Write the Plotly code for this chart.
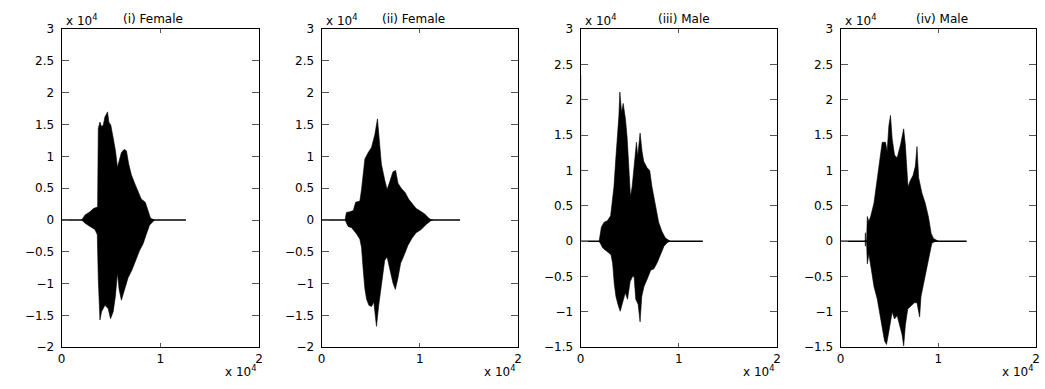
import plotly.graph_objects as go

# ---------------- data (x in units of 1e4 samples, y in units of 1e4) ----------------
titles = ["(i) Female", "(ii) Female", "(iii) Male", "(iv) Male"]
y_ranges = [[-2, 3], [-2, 3], [-1.5, 3], [-1.5, 3]]

x_tickvals = [0, 1, 2]
x_ticktext = ["0", "1", "2"]
y_tickvals_f = [-2, -1.5, -1, -0.5, 0, 0.5, 1, 1.5, 2, 2.5, 3]
y_ticktext_f = ["\u22122", "\u22121.5", "\u22121", "\u22120.5", "0", "0.5", "1", "1.5", "2", "2.5", "3"]
y_tickvals_m = [-1.5, -1, -0.5, 0, 0.5, 1, 1.5, 2, 2.5, 3]
y_ticktext_m = ["\u22121.5", "\u22121", "\u22120.5", "0", "0.5", "1", "1.5", "2", "2.5", "3"]

# Panel (i) envelope
p1_up_x = [0.204, 0.238, 0.288, 0.322, 0.355, 0.365, 0.372, 0.389, 0.405, 0.422, 0.439, 0.466, 0.479,
           0.499, 0.523, 0.546, 0.566, 0.59, 0.606, 0.633, 0.657, 0.68, 0.707, 0.74, 0.774, 0.807,
           0.848, 0.874, 0.901, 0.941]
p1_up_y = [0, 0.08, 0.13, 0.18, 0.2, 0.2, 1.44, 1.54, 1.47, 1.49, 1.62, 1.70, 1.54,
           1.49, 1.29, 1.09, 0.83, 0.96, 1.06, 1.11, 1.09, 0.88, 0.71, 0.58, 0.45, 0.33,
           0.28, 0.15, 0.03, 0.0]
p1_lo_x = [0.204, 0.238, 0.288, 0.338, 0.362, 0.372, 0.389, 0.405, 0.439, 0.472, 0.496, 0.523,
           0.546, 0.566, 0.583, 0.606, 0.633, 0.673, 0.714, 0.747, 0.79, 0.824, 0.857, 0.891, 0.941]
p1_lo_y = [0, -0.05, -0.1, -0.15, -0.23, -0.93, -1.57, -1.44, -1.34, -1.39, -1.55, -1.44,
           -1.19, -0.83, -1.09, -1.26, -1.14, -0.91, -0.78, -0.66, -0.48, -0.38, -0.23, -0.08, 0]
p1_end = 1.26

# Panel (ii) envelope
p2_up_x = [0.24, 0.253, 0.29, 0.323, 0.347, 0.39, 0.407, 0.424, 0.441, 0.475, 0.508, 0.542, 0.569,
           0.586, 0.609, 0.643, 0.667, 0.694, 0.727, 0.754, 0.778, 0.811, 0.852, 0.886, 0.929,
           0.963, 0.997, 1.047, 1.098, 1.13]
p2_up_y = [0, 0.12, 0.13, 0.15, 0.28, 0.30, 0.48, 0.68, 0.96, 1.06, 1.14, 1.34, 1.59,
           1.29, 0.88, 0.63, 0.48, 0.6, 0.76, 0.78, 0.58, 0.5, 0.43, 0.33, 0.25,
           0.18, 0.15, 0.1, 0.02, 0]
p2_lo_x = [0.24, 0.27, 0.306, 0.357, 0.39, 0.407, 0.424, 0.441, 0.458, 0.482, 0.508, 0.532, 0.559,
           0.582, 0.609, 0.643, 0.667, 0.694, 0.727, 0.751, 0.778, 0.805, 0.838, 0.879, 0.923,
           0.963, 1.014, 1.064, 1.114, 1.13]
p2_lo_y = [0, -0.1, -0.12, -0.22, -0.3, -0.43, -0.78, -1.08, -1.24, -1.34, -1.36, -1.29, -1.67,
           -1.34, -0.99, -0.63, -0.58, -0.78, -0.99, -1.09, -0.91, -0.68, -0.56, -0.40, -0.28,
           -0.2, -0.15, -0.07, -0.01, 0]
p2_end = 1.41

# Panel (iii) envelope
p3_up_x = [0.189, 0.212, 0.24, 0.273, 0.306, 0.323, 0.34, 0.357, 0.374, 0.39, 0.4, 0.418, 0.434,
           0.458, 0.475, 0.492, 0.508, 0.525, 0.549, 0.569, 0.582, 0.606, 0.626, 0.643, 0.677,
           0.704, 0.727, 0.761, 0.795, 0.828, 0.862, 0.912]
p3_up_y = [0, 0.2, 0.27, 0.29, 0.36, 0.54, 0.77, 1.13, 1.45, 1.77, 2.11, 1.82, 1.95,
           1.72, 1.45, 1.04, 0.63, 0.77, 1.13, 1.4, 1.2, 1.53, 1.27, 1.13, 1.04,
           1.0, 0.77, 0.5, 0.27, 0.14, 0.05, 0]
p3_lo_x = [0.189, 0.209, 0.226, 0.259, 0.31, 0.327, 0.343, 0.36, 0.384, 0.404, 0.428, 0.455, 0.478,
           0.505, 0.529, 0.545, 0.562, 0.586, 0.606, 0.623, 0.646, 0.68, 0.714, 0.747, 0.781,
           0.815, 0.849, 0.882, 0.912]
p3_lo_y = [0, -0.05, -0.095, -0.14, -0.19, -0.32, -0.6, -0.78, -0.91, -0.99, -0.87, -0.73, -0.82,
           -0.57, -0.5, -0.5, -0.82, -0.89, -1.14, -0.78, -0.64, -0.53, -0.41, -0.39, -0.3,
           -0.19, -0.07, -0.02, 0]
p3_end = 1.245
p3_spike_x = [0.003, 0.003]
p3_spike_y = [0, 2.35]

# Panel (iv) envelope
p4_up_x = [0.244, 0.252, 0.254, 0.256, 0.266, 0.274, 0.29, 0.308, 0.342, 0.376, 0.41, 0.426, 0.46,
           0.477, 0.494, 0.511, 0.528, 0.552, 0.579, 0.613, 0.646, 0.663, 0.69, 0.714, 0.741,
           0.765, 0.782, 0.799, 0.833, 0.866, 0.9, 0.927, 0.951, 1.0]
p4_up_y = [0, 0, 0.12, 0, 0, 0.35, 0.28, 0.35, 0.54, 0.9, 1.22, 1.4, 1.4,
           1.27, 1.63, 1.78, 1.45, 1.22, 1.18, 1.36, 1.59, 1.36, 0.77, 0.86, 0.93,
           1.06, 1.34, 0.9, 0.68, 0.54, 0.34, 0.11, 0.04, 0]
p4_lo_x = [0.244, 0.252, 0.254, 0.256, 0.266, 0.274, 0.29, 0.308, 0.342, 0.376, 0.403, 0.426, 0.45,
           0.47, 0.494, 0.528, 0.552, 0.579, 0.606, 0.629, 0.646, 0.663, 0.687, 0.721, 0.755,
           0.782, 0.809, 0.823, 0.85, 0.876, 0.91, 0.934, 0.968, 1.0]
p4_lo_y = [0, 0, -0.07, 0, 0, -0.32, -0.18, -0.32, -0.64, -0.82, -1.0, -1.23, -1.41,
           -1.46, -1.28, -1.0, -1.1, -1.05, -1.19, -1.32, -1.48, -1.19, -0.96, -0.91, -0.87,
           -0.87, -1.07, -0.78, -0.6, -0.41, -0.19, -0.03, 0, 0]
p4_end = 1.29

panels = [
    (p1_up_x, p1_up_y, p1_lo_x, p1_lo_y, p1_end),
    (p2_up_x, p2_up_y, p2_lo_x, p2_lo_y, p2_end),
    (p3_up_x, p3_up_y, p3_lo_x, p3_lo_y, p3_end),
    (p4_up_x, p4_up_y, p4_lo_x, p4_lo_y, p4_end),
]

# ---------------- layout geometry ----------------
W, H = 1045, 389
x_px = [(58, 257), (320, 518), (581, 779), (843, 1040)]
y_dom = [1 - 353 / H, 1 - 23 / H]
title_centers = [150, 413, 685, 945]

FONT = "DejaVu Sans"
fig = go.Figure()

for i, (ux, uy, lx, ly, end) in enumerate(panels):
    n = "" if i == 0 else str(i + 1)
    xa, ya = "x" + n, "y" + n
    # zero line (silence)
    fig.add_trace(go.Scatter(x=[0, end], y=[0, 0], mode="lines",
                             line=dict(color="black", width=1.6),
                             xaxis=xa, yaxis=ya, showlegend=False, hoverinfo="skip"))
    # waveform envelope
    fig.add_trace(go.Scatter(x=ux + lx[::-1], y=uy + ly[::-1], mode="lines",
                             fill="toself", fillcolor="black",
                             line=dict(color="black", width=0.6),
                             xaxis=xa, yaxis=ya, showlegend=False, hoverinfo="skip"))
    if i == 2:
        fig.add_trace(go.Scatter(x=p3_spike_x, y=p3_spike_y, mode="lines",
                                 line=dict(color="#888888", width=1),
                                 xaxis=xa, yaxis=ya, showlegend=False, hoverinfo="skip"))

    female = i < 2
    common = dict(showline=True, linecolor="black", linewidth=1, mirror="ticks",
                  ticks="inside", tickcolor="#555555", tickwidth=1,
                  showgrid=False, zeroline=False,
                  tickfont=dict(family=FONT, size=12, color="black"))
    fig.update_layout(**{
        ("xaxis" + n): dict(domain=[x_px[i][0] / W, x_px[i][1] / W], range=[0, 2],
                            anchor=ya, tickmode="array", tickvals=x_tickvals,
                            ticktext=x_ticktext, ticklen=4, **common),
        ("yaxis" + n): dict(domain=y_dom, range=y_ranges[i], anchor=xa,
                            tickmode="array",
                            tickvals=y_tickvals_f if female else y_tickvals_m,
                            ticktext=y_ticktext_f if female else y_ticktext_m,
                            ticklen=7, ticklabelstandoff=4, **common),
    })

    # exponent labels and titles
    fig.add_annotation(text="x 10<sup>4</sup>", xref="paper", yref="paper",
                       x=(x_px[i][0] + 2) / W, y=1 - 14 / H, xanchor="left", yanchor="middle",
                       showarrow=False, font=dict(family=FONT, size=12, color="black"))
    fig.add_annotation(text=titles[i], xref="paper", yref="paper",
                       x=title_centers[i] / W, y=1 - 12 / H, xanchor="center", yanchor="middle",
                       showarrow=False, font=dict(family=FONT, size=12, color="black"))
    fig.add_annotation(text="x 10<sup>4</sup>", xref="paper", yref="paper",
                       x=x_px[i][1] / W, y=1 - 378 / H, xanchor="right", yanchor="middle",
                       showarrow=False, font=dict(family=FONT, size=12, color="black"))

fig.update_layout(width=W, height=H, margin=dict(l=0, r=0, t=0, b=0),
                  paper_bgcolor="white", plot_bgcolor="white")

fig.write_html("out.html")
